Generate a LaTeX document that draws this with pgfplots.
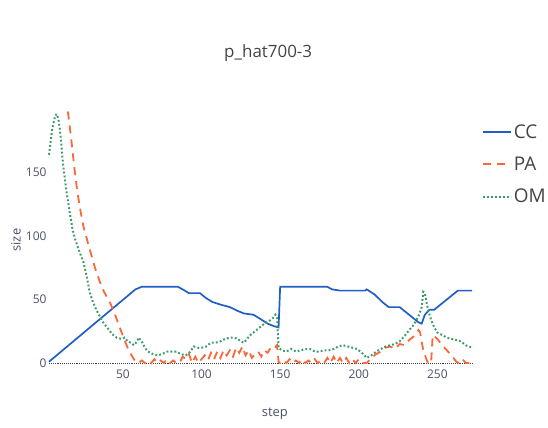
\documentclass[border=0pt]{standalone}
\usepackage{pgfplots}
\pgfplotsset{compat=1.18}
\usepackage{fontspec}
\setmainfont{Open Sans}
\definecolor{ccblue}{HTML}{1F5FC4}
\definecolor{paorange}{HTML}{F9683A}
\definecolor{omgreen}{HTML}{3A9A6A}
\definecolor{txt}{HTML}{444444}
\definecolor{tick}{HTML}{4B5068}
\pgfplotstableread{
x y
3 1
58 58
60 59
62 60
85 60
88 58
92 55
99 55
103 51
107 48
112 46
118 44
123 41
127 39
133 38
137 35
142 31
146 29
149 28
150 60
180 60
183 58
188 57
204 57
205 58
210 54
215 48
219 44
226 44
230 40
234 36
238 32
240 31
242 38
245 42
248 42
252 46
256 50
260 54
263 57
272 57
}\cc
\pgfplotstableread{
x y
15 198
17 178
19 155
21 135
23 120
25 107
29 89
32 76
35 65
38 56
42 47
45 38
48 28
51 18
53 12
56 5
58 1
60 0
62 2
64 0
66 2
68 0
70 3
72 0
74 2
76 0
78 3
80 0
82 2
84 0
86 0
88 5
90 3
92 7
94 0
96 5
98 0
100 3
102 6
104 2
106 8
108 3
110 9
112 4
114 10
116 6
118 10
120 5
122 12
124 8
126 13
128 6
130 10
132 4
134 7
136 9
138 5
140 10
142 8
144 12
146 11
148 14
149 1
150 0
152 2
154 0
156 3
158 0
160 2
162 0
164 3
166 0
168 2
170 0
172 3
174 0
176 2
178 0
180 4
182 0
184 5
186 0
188 4
190 0
192 4
194 0
196 3
198 0
200 3
202 0
205 0
208 4
211 7
214 9
217 12
220 13
223 11
226 15
229 14
232 18
235 21
238 26
239 24
241 10
243 3
244 0
246 0
247 22
250 19
253 14
256 10
259 6
262 1
264 0
266 3
268 0
272 0
}\pa
\pgfplotstableread{
x y
3 164
5 184
7 195
8 196
9 192
10 183
11 170
12 156
14 136
16 120
18 105
20 96
22 89
25 79
27 68
29 55
31 48
33 42
36 35
38 31
40 28
43 23
46 20
49 19
51 20
53 17
55 16
57 14
59 17
60 20
62 17
64 12
66 9
69 7
72 6
75 7
78 9
81 9
84 9
87 7
90 6
93 9
95 13
98 12
100 12
103 13
106 16
109 16
112 17
115 19
118 20
121 20
123 19
125 17
127 16
129 19
131 22
134 25
137 28
140 31
143 33
146 36
147 38
148 36
149 12
151 10
154 9
157 11
160 9
163 10
166 11
169 11
172 9
175 9
178 10
181 10
184 11
187 13
190 14
193 13
196 12
199 11
202 8
205 4
208 6
211 9
214 11
217 13
220 14
223 15
226 17
229 21
232 26
235 30
238 37
240 44
241 56
242 55
244 42
246 34
248 28
250 24
253 22
256 20
259 19
262 18
265 17
268 14
272 12
}\om
\begin{document}
\begin{tikzpicture}[x=1bp,y=1bp]
\useasboundingbox (-49bp,-65bp) rectangle (499bp,363bp);
\begin{axis}[
  at={(0,0)}, anchor=south west,
  scale only axis,
  width=423bp, height=254bp,
  xmin=3, xmax=272, ymin=0, ymax=200,
  axis line style={draw=none},
  major tick length=0pt,
  xtick={50,100,150,200,250},
  ytick={0,50,100,150},
  /pgf/number format/assume math mode=true,
  tick label style={font=\fontsize{12}{14}\selectfont, text=tick},
  xticklabel style={yshift=-3bp},
  yticklabel style={xshift=1bp},
  title={p\_hat700-3},
  title style={at={(axis description cs:0.518,1.196)}, anchor=center, font=\fontsize{17}{20}\selectfont, text=txt},
  xlabel={step},
  xlabel style={at={(axis description cs:0.534,-0.2)}, anchor=center, font=\fontsize{13}{15}\selectfont, text=tick},
  ylabel={size},
  ylabel style={at={(axis description cs:-0.078,0.484)}, anchor=center, rotate=0, font=\fontsize{13}{15}\selectfont, text=tick},
  legend style={at={(axis description cs:1.024,0.945)}, anchor=north west, draw=none, fill=none,
    font=\fontsize{19}{22}\selectfont, text=txt, row sep=14bp, inner sep=0pt,
    nodes={inner sep=1.5bp}},
  legend cell align=left,
  legend image code/.code={\draw[#1] (0bp,0bp) -- (28bp,0bp);},
  clip=false,
]
\draw[txt, densely dotted, line width=0.9bp] (axis cs:3,0) -- (axis cs:272,0);
\addplot[ccblue, line width=1.7bp] table {\cc};
\addlegendentry{CC}
\addplot[paorange, line width=1.8bp, dash pattern=on 8bp off 6bp] table {\pa};
\addlegendentry{PA}
\addplot[omgreen, line width=2bp, dash pattern=on 1.8bp off 2.2bp] table {\om};
\addlegendentry{OM}
\end{axis}
\end{tikzpicture}
\end{document}
